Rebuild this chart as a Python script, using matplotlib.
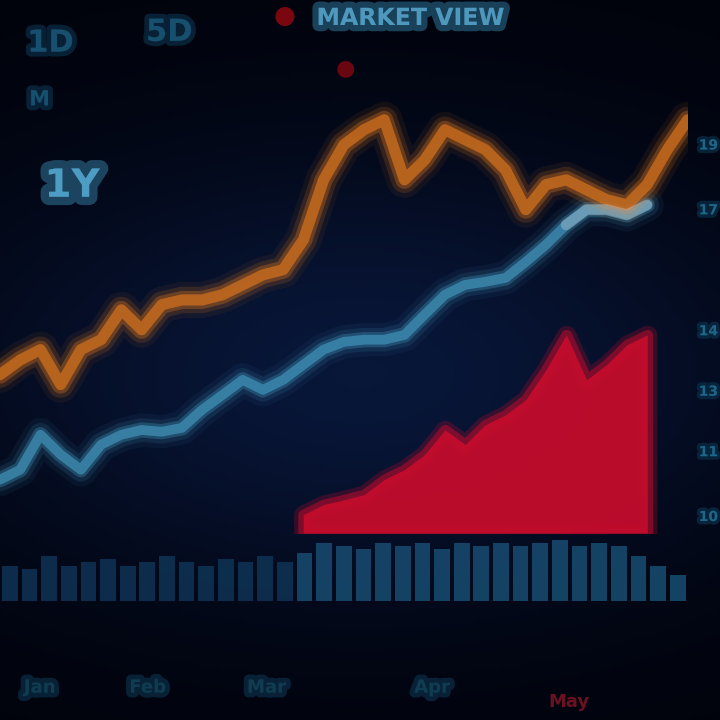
import matplotlib
matplotlib.use('Agg')
import matplotlib.pyplot as plt
import matplotlib.patheffects as pe
import numpy as np

plt.rcParams.update({
    "font.family": "sans-serif",
    "font.sans-serif": ["DejaVu Sans"],
    "font.weight": "bold",
})

idx = list(range(35))
orange_price = [136.6, 140.0, 142.4, 134.3, 142.4, 144.7, 151.6, 147.0, 152.8, 153.9,
                153.9, 155.1, 157.4, 159.7, 160.9, 167.8, 181.7, 189.8, 193.3, 195.6,
                181.7, 186.3, 193.3, 191.0, 188.7, 184.0, 174.8, 180.6, 181.7, 179.4,
                177.1, 175.9, 180.6, 188.7, 195.6]
blue_price = [112.3, 114.6, 122.7, 118.1, 114.6, 120.4, 122.7, 123.8, 123.4, 124.3,
              128.5, 131.9, 135.4, 133.1, 135.4, 138.9, 142.4, 144.2, 144.7, 144.7,
              145.8, 150.5, 155.1, 157.4, 158.1, 159.0, 162.7, 166.7, 171.3, 174.8,
              174.8, 173.6, 175.9]
red_idx = list(range(15, 33))
red_level = [104.2, 106.5, 107.6, 108.8, 112.3, 114.6, 118.1, 123.8, 120.4, 125.0,
             127.3, 130.8, 137.7, 145.8, 135.4, 138.9, 143.5, 145.8]
volume = [0.55, 0.5, 0.7, 0.55, 0.6, 0.65, 0.55, 0.6, 0.7, 0.6,
          0.55, 0.65, 0.6, 0.7, 0.6, 0.75, 0.9, 0.85, 0.8, 0.9,
          0.85, 0.9, 0.8, 0.9, 0.85, 0.9, 0.85, 0.9, 0.95, 0.85,
          0.9, 0.85, 0.7, 0.55, 0.4]
price_ticks = [190, 175, 147, 133, 119, 104]
price_tick_labels = ["19", "17", "14", "13", "11", "10"]
date_labels = ["Jan", "Feb", "Mar", "Apr", "May"]

BG = '#01030c'
ORANGE = '#d0701e'
SKY = '#3f8fb5'
RED = '#c40c2c'

fig = plt.figure(figsize=(7.2, 7.2), dpi=100, facecolor=BG)

# soft navy glow behind the chart
bg = fig.add_axes([0, 0, 1, 1], zorder=0)
yy, xx = np.mgrid[0:1:200j, 0:1:200j]
glow = np.exp(-(((xx - 0.5) / 0.6) ** 2 + ((yy - 0.52) / 0.32) ** 2))
bg.imshow(glow, cmap=matplotlib.colors.LinearSegmentedColormap.from_list('g', [BG, '#081638']),
          extent=[0, 1, 0, 1], aspect='auto')
bg.axis('off')

# price panel
ax = fig.add_axes([0, 0.26, 0.955, 0.6], zorder=2)
ax.set_facecolor('none')
ax.set_xlim(0, 34)
ax.set_ylim(100, 200)

for lw, a in [(14, 0.25), (8, 0.5)]:
    ax.fill_between(red_idx, 100, red_level, color=RED, alpha=a, lw=lw,
                    edgecolor=RED, zorder=2)
ax.fill_between(red_idx, 100, red_level, color=RED, alpha=0.85, lw=0, zorder=2)

for lw, a in [(24, 0.08), (17, 0.15), (11, 0.35), (7, 0.75)]:
    ax.plot(idx[:len(blue_price)], blue_price, color=SKY, lw=lw, alpha=a,
            solid_capstyle='round', solid_joinstyle='round', zorder=3)
for lw, a in [(26, 0.08), (19, 0.18), (13, 0.35), (8, 0.75)]:
    ax.plot(idx, orange_price, color=ORANGE, lw=lw, alpha=a,
            solid_capstyle='round', solid_joinstyle='round', zorder=4)
# pale overlap where the two lines meet
ax.plot(idx[28:33], blue_price[28:33], color='#c8d4e0', lw=8, alpha=0.35,
        solid_capstyle='round', zorder=5)

ax.yaxis.tick_right()
ax.set_yticks(price_ticks)
ax.set_yticklabels(price_tick_labels)
ax.tick_params(axis='y', length=0, labelsize=10, labelcolor='#1d6688', pad=8)
for t in ax.get_yticklabels():
    t.set_path_effects([pe.withStroke(linewidth=5, foreground='#0c3550', alpha=0.6)])
ax.set_xticks([])
for s in ax.spines.values():
    s.set_visible(False)

# volume panel
vax = fig.add_axes([0, 0.165, 0.955, 0.09], zorder=1)
vax.set_facecolor('none')
vcol = ['#0f3152' if i < 15 else '#17496c' for i in idx]
vax.bar(idx, volume, width=0.8, color=vcol, alpha=0.9)
vax.set_xlim(-0.5, 34.5)
vax.set_ylim(0, 1)
vax.axis('off')

blur = [pe.withStroke(linewidth=7, foreground='#0d3550', alpha=0.6)]

# header blobs
fig.text(0.07, 0.94, "1D", color='#17506e', fontsize=22, ha='center', va='center', path_effects=blur)
fig.text(0.235, 0.955, "5D", color='#17506e', fontsize=22, ha='center', va='center', path_effects=blur)
fig.text(0.055, 0.862, "M", color='#17506e', fontsize=15, ha='center', va='center', path_effects=blur)
fig.text(0.1, 0.742, "1Y", color='#4c9cc4', fontsize=28, ha='center', va='center',
         path_effects=[pe.withStroke(linewidth=12, foreground='#2e6d8f', alpha=0.6)])
fig.text(0.395, 0.978, "●", color='#7a0610', fontsize=18, ha='center', va='center')
fig.text(0.48, 0.905, "●", color='#6a0610', fontsize=16, ha='center', va='center')
fig.text(0.57, 0.975, "MARKET VIEW", color='#4f98bd', fontsize=17, ha='center', va='center',
         path_effects=[pe.withStroke(linewidth=9, foreground='#2a6a8c', alpha=0.6)])

# date labels at the bottom
for x, lab in zip([0.055, 0.205, 0.37, 0.6], date_labels[:4]):
    fig.text(x, 0.045, lab, color='#0f3c50', fontsize=13, ha='center', va='center', path_effects=blur)
fig.text(0.79, 0.025, date_labels[4], color='#6a1020', fontsize=13, ha='center', va='center')

fig.savefig('out.png', dpi=100, facecolor=BG)
